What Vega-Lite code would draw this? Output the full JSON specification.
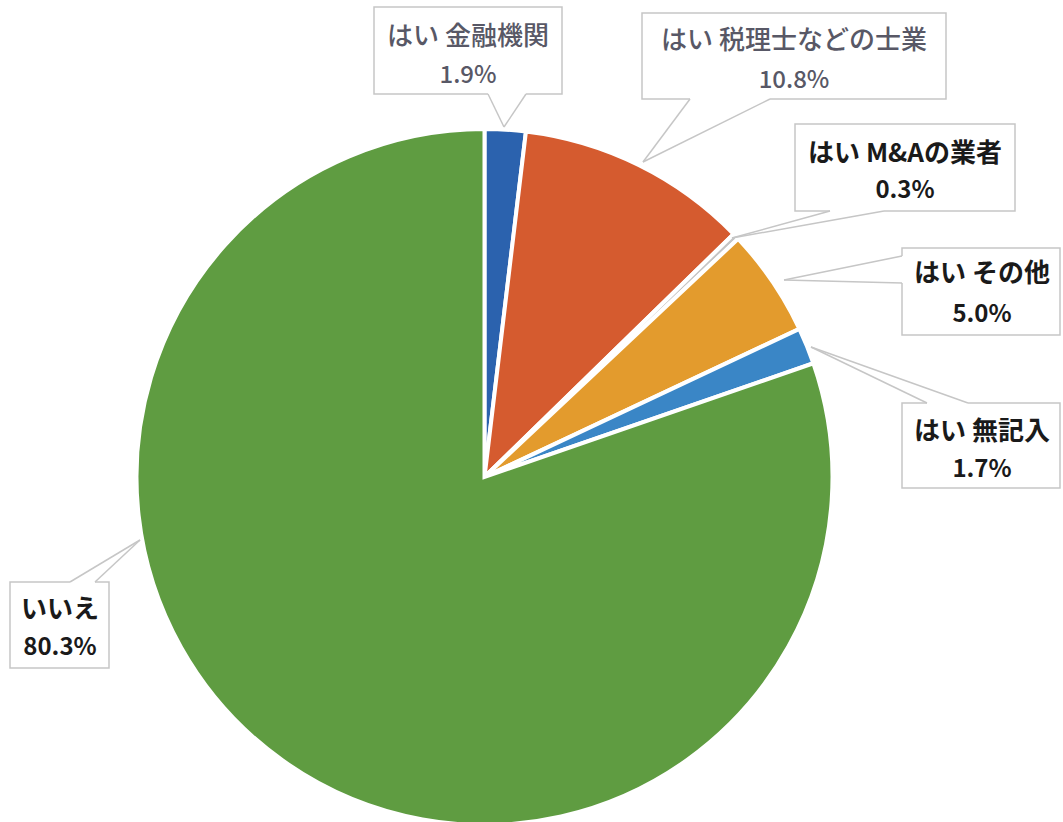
{
  "$schema": "https://vega.github.io/schema/vega-lite/v6.json",
  "width": 1063,
  "height": 822,
  "autosize": "none",
  "padding": 0,
  "background": "white",
  "config": {"view": {"stroke": null}},
  "datasets": {
    "slices": [
      {"id": 1, "label": "はい 金融機関", "pct": 1.9},
      {"id": 2, "label": "はい 税理士などの士業", "pct": 10.8},
      {"id": 3, "label": "はい M&Aの業者", "pct": 0.3},
      {"id": 4, "label": "はい その他", "pct": 5.0},
      {"id": 5, "label": "はい 無記入", "pct": 1.7},
      {"id": 6, "label": "いいえ", "pct": 80.3}
    ],
    "boxes": [
      {"id": 1, "x1": 374, "x2": 562, "y1": 7, "y2": 94},
      {"id": 2, "x1": 642, "x2": 946, "y1": 13, "y2": 99},
      {"id": 3, "x1": 795, "x2": 1015, "y1": 124, "y2": 211},
      {"id": 4, "x1": 902, "x2": 1060, "y1": 248, "y2": 335},
      {"id": 5, "x1": 902, "x2": 1060, "y1": 403, "y2": 488},
      {"id": 6, "x1": 10, "x2": 109, "y1": 582, "y2": 668}
    ],
    "gaps": [
      {"id": 1, "ax": 488, "ay": 94, "bx": 526, "by": 94},
      {"id": 2, "ax": 690, "ay": 99, "bx": 770, "by": 99},
      {"id": 3, "ax": 830, "ay": 211, "bx": 884, "by": 211},
      {"id": 4, "ax": 902, "ay": 256, "bx": 902, "by": 283},
      {"id": 5, "ax": 927, "ay": 403, "bx": 968, "by": 403},
      {"id": 6, "ax": 70, "ay": 582, "bx": 95, "by": 582}
    ],
    "pointers": [
      {"id": 1, "tx": 504, "ty": 127, "bx": 488, "by": 94},
      {"id": 1, "tx": 504, "ty": 127, "bx": 526, "by": 94},
      {"id": 2, "tx": 643, "ty": 162, "bx": 690, "by": 99},
      {"id": 2, "tx": 643, "ty": 162, "bx": 770, "by": 99},
      {"id": 3, "tx": 732, "ty": 238, "bx": 830, "by": 211},
      {"id": 3, "tx": 732, "ty": 238, "bx": 884, "by": 211},
      {"id": 4, "tx": 784, "ty": 280, "bx": 902, "by": 256},
      {"id": 4, "tx": 784, "ty": 280, "bx": 902, "by": 283},
      {"id": 5, "tx": 811, "ty": 347, "bx": 927, "by": 403},
      {"id": 5, "tx": 811, "ty": 347, "bx": 968, "by": 403},
      {"id": 6, "tx": 140, "ty": 540, "bx": 70, "by": 582},
      {"id": 6, "tx": 140, "ty": 540, "bx": 95, "by": 582}
    ],
    "labels": [
      {"id": 1, "name": "はい 金融機関", "pctText": "1.9%", "lx": 468, "ny": 37, "py": 76},
      {"id": 2, "name": "はい 税理士などの士業", "pctText": "10.8%", "lx": 794, "ny": 41, "py": 81},
      {"id": 3, "name": "はい M&Aの業者", "pctText": "0.3%", "lx": 905, "ny": 154, "py": 191},
      {"id": 4, "name": "はい その他", "pctText": "5.0%", "lx": 982, "ny": 274, "py": 315},
      {"id": 5, "name": "はい 無記入", "pctText": "1.7%", "lx": 982, "ny": 432, "py": 470},
      {"id": 6, "name": "いいえ", "pctText": "80.3%", "lx": 60, "ny": 610, "py": 648}
    ]
  },
  "layer": [
    {
      "data": {"name": "slices"},
      "mark": {"type": "arc", "outerRadius": 348, "stroke": "white", "strokeWidth": 4},
      "encoding": {
        "theta": {"field": "pct", "type": "quantitative", "stack": true},
        "order": {"field": "id", "type": "quantitative"},
        "color": {
          "field": "label",
          "type": "nominal",
          "scale": {
            "domain": ["はい 金融機関", "はい 税理士などの士業", "はい M&Aの業者", "はい その他", "はい 無記入", "いいえ"],
            "range": ["#2b62ae", "#d55b2f", "#c4c4c4", "#e39b2d", "#3a86c6", "#5f9c41"]
          },
          "legend": null
        },
        "x": {"datum": 484.5, "type": "quantitative", "scale": {"domain": [0, 1063], "nice": false, "zero": false}, "axis": null},
        "y": {"datum": 477, "type": "quantitative", "scale": {"domain": [0, 822], "reverse": true, "nice": false, "zero": false}, "axis": null}
      }
    },
    {
      "data": {"name": "boxes"},
      "mark": {"type": "rect", "fill": "white", "stroke": "#c6c6c6", "strokeWidth": 1.5},
      "encoding": {
        "x": {"field": "x1", "type": "quantitative"},
        "x2": {"field": "x2"},
        "y": {"field": "y1", "type": "quantitative"},
        "y2": {"field": "y2"}
      }
    },
    {
      "data": {"name": "gaps"},
      "mark": {"type": "rule", "color": "white", "strokeWidth": 3},
      "encoding": {
        "x": {"field": "ax", "type": "quantitative"},
        "y": {"field": "ay", "type": "quantitative"},
        "x2": {"field": "bx"},
        "y2": {"field": "by"}
      }
    },
    {
      "data": {"name": "pointers"},
      "mark": {"type": "rule", "color": "#c6c6c6", "strokeWidth": 1.5},
      "encoding": {
        "x": {"field": "tx", "type": "quantitative"},
        "y": {"field": "ty", "type": "quantitative"},
        "x2": {"field": "bx"},
        "y2": {"field": "by"}
      }
    },
    {
      "data": {"name": "labels"},
      "transform": [{"filter": "datum.id <= 2"}],
      "layer": [
        {
          "mark": {"type": "text", "font": "Noto Sans CJK JP", "fontSize": 26, "fontWeight": 500, "letterSpacing": 1.5, "color": "#585866", "align": "center", "baseline": "middle"},
          "encoding": {
            "x": {"field": "lx", "type": "quantitative"},
            "y": {"field": "ny", "type": "quantitative"},
            "text": {"field": "name"}
          }
        },
        {
          "mark": {"type": "text", "font": "Noto Sans CJK JP", "fontSize": 24, "fontWeight": 500, "color": "#585866", "align": "center", "baseline": "middle"},
          "encoding": {
            "x": {"field": "lx", "type": "quantitative"},
            "y": {"field": "py", "type": "quantitative"},
            "text": {"field": "pctText"}
          }
        }
      ]
    },
    {
      "data": {"name": "labels"},
      "transform": [{"filter": "datum.id > 2"}],
      "layer": [
        {
          "mark": {"type": "text", "font": "Noto Sans CJK JP", "fontSize": 26, "fontWeight": "bold", "letterSpacing": 0.5, "color": "#1a1a1a", "align": "center", "baseline": "middle"},
          "encoding": {
            "x": {"field": "lx", "type": "quantitative"},
            "y": {"field": "ny", "type": "quantitative"},
            "text": {"field": "name"}
          }
        },
        {
          "mark": {"type": "text", "font": "Noto Sans CJK JP", "fontSize": 24, "fontWeight": "bold", "color": "#1a1a1a", "align": "center", "baseline": "middle"},
          "encoding": {
            "x": {"field": "lx", "type": "quantitative"},
            "y": {"field": "py", "type": "quantitative"},
            "text": {"field": "pctText"}
          }
        }
      ]
    }
  ]
}
